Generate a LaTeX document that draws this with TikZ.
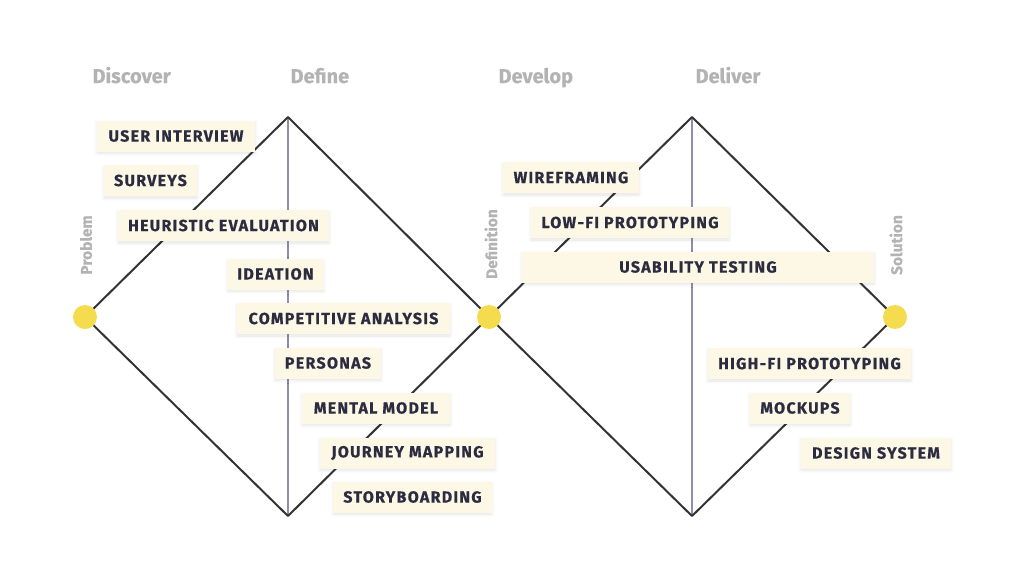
\documentclass[tikz,border=0pt]{standalone}
\usepackage{fontspec}
\setmainfont{Fira Sans}[BoldFeatures={FakeBold=0.4}]
\newfontfamily\tagfont{Fira Sans}[LetterSpace=8, BoldFeatures={FakeBold=0.6}]
\usepackage{tikz}
\usetikzlibrary{positioning, calc, shadows.blur}

\definecolor{inkblue}{HTML}{2B2C40}
\definecolor{creambox}{HTML}{FDF8E6}
\definecolor{edgegray}{HTML}{333333}
\definecolor{midline}{HTML}{8F8DAA}
\definecolor{dotyellow}{HTML}{F4DC4E}
\definecolor{phasegray}{HTML}{B3B3B3}

\begin{document}
\begin{tikzpicture}[
    x=1pt, y=-1pt,
    toolbox/.style={rectangle, fill=creambox, minimum height=31pt, inner xsep=10pt, font=\tagfont\bfseries\fontsize{16}{16}\selectfont, text=inkblue, blur shadow={shadow xshift=0pt, shadow yshift=-2pt, shadow opacity=10, shadow blur radius=3pt}},
    phase/.style={anchor=base west, font=\bfseries\fontsize{20}{20}\selectfont, text=phasegray},
    endlabel/.style={rotate=90, font=\bfseries\fontsize{15.5}{15.5}\selectfont, text=phasegray},
    diamondline/.style={edgegray, line width=2pt, line join=round},
    axisline/.style={midline, line width=2pt},
    joint/.style={circle, fill=dotyellow, minimum size=24pt, inner sep=0pt}
]
\useasboundingbox (0,0) rectangle (1024,584);

% Diamond corners
\coordinate (problem) at (85,317);
\coordinate (definetop) at (288,117);
\coordinate (definebot) at (288,516);
\coordinate (definition) at (489,317);
\coordinate (delivertop) at (692,117);
\coordinate (deliverbot) at (692,516);
\coordinate (solution) at (895,317);

% Phase titles
\node[phase] (discover) at (89,83) {Discover};
\node[phase] (define) at (287,83) {Define};
\node[phase] (develop) at (495,83) {Develop};
\node[phase] (deliver) at (692,83) {Deliver};

% Middle axes and diamonds
\draw[axisline] (definetop) -- (definebot);
\draw[axisline] (delivertop) -- (deliverbot);
\draw[diamondline] (problem) -- (definetop) -- (definition) -- (definebot) -- cycle;
\draw[diamondline] (definition) -- (delivertop) -- (solution) -- (deliverbot) -- cycle;

% End points
\node[joint] (problemdot) at (problem) {};
\node[joint] (definitiondot) at (definition) {};
\node[joint] (solutiondot) at (solution) {};
\node[endlabel] (problemlbl) at (86,245) {Problem};
\node[endlabel] (definitionlbl) at (491,244) {Definition};
\node[endlabel] (solutionlbl) at (896,245) {Solution};

% First diamond methods
\node[toolbox, minimum width=158pt] (interview) at (176,136) {USER INTERVIEW};
\node[toolbox, minimum width=93pt] (surveys) at (150.5,180.5) {SURVEYS};
\node[toolbox, minimum width=211pt] (heuristic) at (223.5,225.5) {HEURISTIC EVALUATION};
\node[toolbox, minimum width=95pt] (ideation) at (275.5,274) {IDEATION};
\node[toolbox, minimum width=213pt] (competitive) at (343.5,318.5) {COMPETITIVE ANALYSIS};
\node[toolbox, minimum width=106pt] (personas) at (328,363) {PERSONAS};
\node[toolbox, minimum width=148pt] (mental) at (376,408) {MENTAL MODEL};
\node[toolbox, minimum width=175pt] (journey) at (407.5,453) {JOURNEY MAPPING};
\node[toolbox, minimum width=157pt] (storyboard) at (412.5,497) {STORYBOARDING};

% Second diamond methods
\node[toolbox, minimum width=136pt] (wireframe) at (571,177.5) {WIREFRAMING};
\node[toolbox, minimum width=198pt] (lowfi) at (630,222.5) {LOW-FI PROTOTYPING};
\node[toolbox, minimum width=352pt] (usability) at (698,267) {USABILITY TESTING};
\node[toolbox, minimum width=203pt] (highfi) at (809.5,363.5) {HIGH-FI PROTOTYPING};
\node[toolbox, minimum width=100pt] (mockups) at (800,408) {MOCKUPS};
\node[toolbox, minimum width=150pt] (designsys) at (876,453) {DESIGN SYSTEM};

\end{tikzpicture}
\end{document}
